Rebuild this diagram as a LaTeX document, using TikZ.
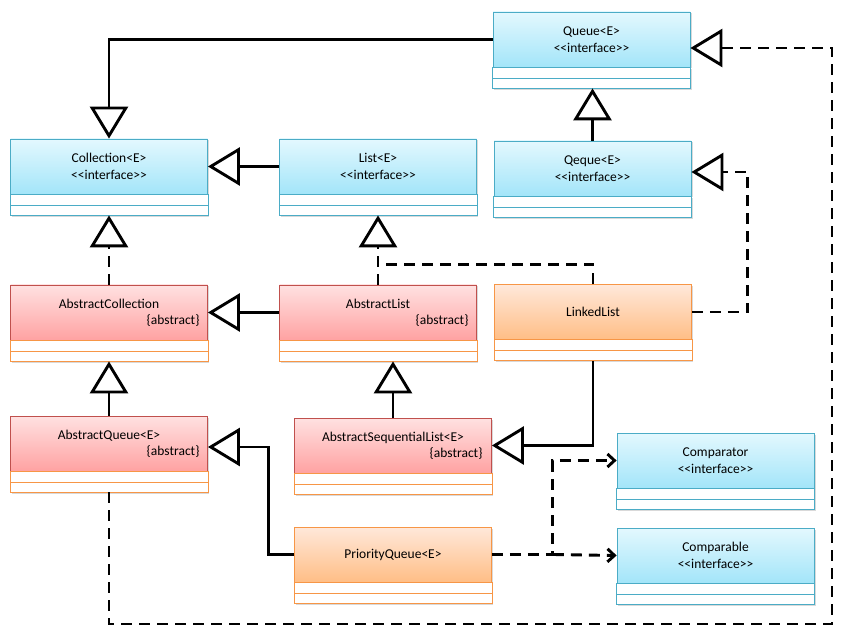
\documentclass[tikz,border=0pt]{standalone}
\usepackage{fontspec}
\newfontfamily\umlfont{Carlito}
\usetikzlibrary{arrows.meta,shadows}

\definecolor{ifline}{HTML}{4BACC6}
\definecolor{iftop}{HTML}{E3F8FE}
\definecolor{ifbot}{HTML}{A3E5F9}
\definecolor{abline}{HTML}{C0504D}
\definecolor{abtop}{HTML}{FFE1E1}
\definecolor{abbot}{HTML}{FFA2A2}
\definecolor{orline}{HTML}{F79646}
\definecolor{crtop}{HTML}{FFE8DA}
\definecolor{crbot}{HTML}{FFBE86}

\tikzset{
  shade/.style={drop shadow={shadow xshift=1.5pt,shadow yshift=-1.5pt,opacity=.3}},
  cls/.style={minimum width=197pt,minimum height=55pt,inner sep=0pt,align=center,
    line width=.8pt,font=\umlfont\fontsize{13.5}{16.5}\selectfont,shade},
  iface/.style={cls,draw=ifline,top color=iftop,bottom color=ifbot},
  abstr/.style={cls,draw=abline,top color=abtop,bottom color=abbot},
  concr/.style={cls,draw=orline,top color=crtop,bottom color=crbot},
  comp/.style={draw=#1,fill=white,line width=.8pt,shade},
  link/.style={line width=2.9pt},
  dashes/.style={dash pattern=on 11pt off 7pt},
  gen/.style={link,-{Triangle[open,length=32pt,width=38pt]}},
  real/.style={gen,dashes},
  dep/.style={link,dashes,-{Straight Barb[length=7pt,width=13pt]}}
}

\begin{document}
\begin{tikzpicture}[x=1pt,y=-1pt]
\useasboundingbox (0,0) rectangle (849,644);

% classes (top compartment)
\node[iface] (queue) at (591.5,39.5) {Queue<E>\\<<interface>>};
\node[iface] (coll) at (109,166.5) {Collection<E>\\<<interface>>};
\node[iface] (list) at (378,166.5) {List<E>\\<<interface>>};
\node[iface] (deque) at (592.5,168.5) {Qeque<E>\\<<interface>>};
\node[abstr] (abscoll) at (109,312.5) {AbstractCollection\\\makebox[181pt][r]{\{abstract\}}};
\node[abstr] (abslist) at (378,312.5) {AbstractList\\\makebox[181pt][r]{\{abstract\}}};
\node[concr] (linked) at (593,312) {LinkedList};
\node[abstr] (absqueue) at (109,443.5) {AbstractQueue<E>\\\makebox[181pt][r]{\{abstract\}}};
\node[abstr] (absseq) at (393,445.5) {AbstractSequentialList<E>\\\makebox[179pt][r]{\{abstract\}}};
\node[concr] (prio) at (393,554.5) {PriorityQueue<E>};
\node[iface] (comparator) at (715.5,460.5) {Comparator\\<<interface>>};
\node[iface] (comparable) at (715.5,555.5) {Comparable\\<<interface>>};

% attribute and method compartments
\foreach \n/\c in {queue/ifline,coll/ifline,list/ifline,deque/ifline,comparator/ifline,
    comparable/ifline,abscoll/orline,abslist/orline,absqueue/orline,absseq/orline,
    linked/orline,prio/orline}{
  \draw[comp=\c] (\n.south west) rectangle ([yshift=-11pt]\n.south east);
  \draw[comp=\c] ([yshift=-11pt]\n.south west) rectangle ([yshift=-21pt]\n.south east);
  \coordinate (\n-b) at ([yshift=-21pt]\n.south);
}

% inheritance
\draw[gen] (queue.west) -| (coll.north);
\draw[gen] (list.west) -- (coll.east);
\draw[gen] (deque.north) -- (deque.north |- queue-b);
\draw[gen] (abslist.west) -- (abscoll.east);
\draw[gen] (absseq.north) -- (absseq.north |- abslist-b);
\draw[gen] (linked-b) |- (absseq.east);
\draw[gen] (absqueue.north) -- (abscoll-b);
\draw[gen] (prio.west) -- ++(-26,0) |- ([yshift=-3.5pt]absqueue.east);

% realization
\coordinate (rb) at (832,624);
\draw[real] (abscoll.north) -- (coll-b);
\draw[real] (abslist.north) -- (list-b);
\draw[link,dashes] (linked.north) |- ([yshift=20pt]abslist.north);
\draw[real] (linked.east) -- ++(56,0) |- ([yshift=-3.5pt]deque.east);
\draw[real] (absqueue-b) |- (rb) |- ([yshift=-8.5pt]queue.east);

% dependency
\draw[dep] (prio.east) -- ++(61,0) coordinate (split) |- (comparator.west);
\draw[dep] (split) -- (comparable.west);
\end{tikzpicture}
\end{document}
